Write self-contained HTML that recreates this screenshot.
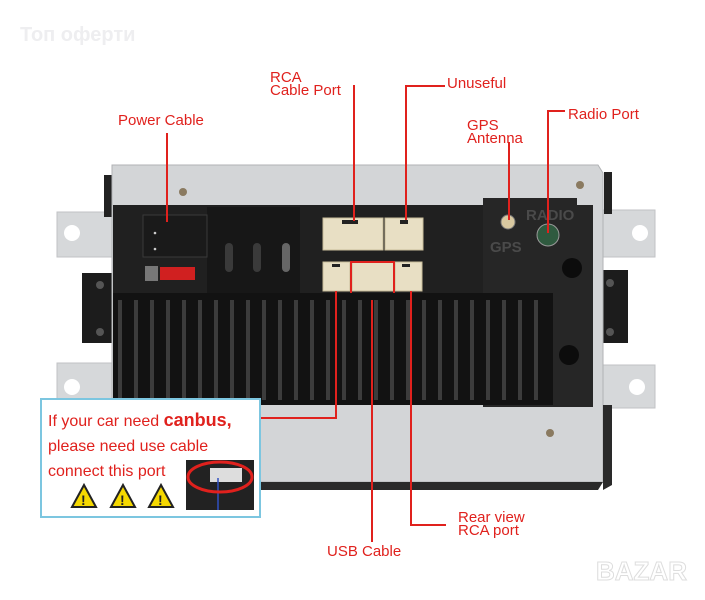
<!DOCTYPE html>
<html><head><meta charset="utf-8"><style>
body{margin:0;background:#fff;width:705px;height:600px;overflow:hidden;position:relative;font-family:"Liberation Sans",sans-serif}
.t{position:absolute;color:#e0211d;font-size:15px;line-height:13px}
</style></head><body>
<svg width="705" height="600" style="position:absolute;left:0;top:0">
<!-- ears -->
<g fill="#d6d8da" stroke="#c0c2c4">
<path d="M57 212h58v45h-58z"/><path d="M57 363h58v42h-58z"/>
<path d="M600 210h55v47h-55z"/><path d="M600 365h55v43h-55z"/>
</g>
<circle cx="72" cy="233" r="8" fill="#fff"/><circle cx="72" cy="387" r="8" fill="#fff"/>
<circle cx="640" cy="233" r="8" fill="#fff"/><circle cx="637" cy="387" r="8" fill="#fff"/>
<!-- side tabs -->
<rect x="104" y="175" width="8" height="42" fill="#222"/><rect x="604" y="172" width="8" height="42" fill="#222"/>
<rect x="82" y="273" width="32" height="70" fill="#1c1c1c"/><rect x="598" y="270" width="30" height="73" fill="#1c1c1c"/>
<circle cx="100" cy="285" r="4" fill="#555"/><circle cx="100" cy="332" r="4" fill="#555"/>
<circle cx="610" cy="283" r="4" fill="#555"/><circle cx="610" cy="332" r="4" fill="#555"/>
<!-- chassis -->
<path d="M112 165h486l5 8v309h-491z" fill="#d3d5d7" stroke="#b0b2b4"/>
<path d="M112 482h491l-5 8H118z" fill="#2a2a2a"/>
<path d="M603 405h9v80l-9 5z" fill="#2a2a2a"/>
<circle cx="183" cy="192" r="4" fill="#8a7a60"/><circle cx="550" cy="433" r="4" fill="#8a7a60"/><circle cx="580" cy="185" r="4" fill="#8a7a60"/>
<!-- black back panel -->
<rect x="113" y="205" width="480" height="92" fill="#202020"/>
<rect x="483" y="198" width="94" height="20" fill="#262626"/>
<rect x="483" y="205" width="110" height="202" fill="#262626"/>
<rect x="207" y="207" width="93" height="88" fill="#171717"/>
<rect x="143" y="215" width="64" height="42" fill="#1a1a1a" stroke="#3a3a3a"/>
<g fill="#ccc"><circle cx="155" cy="233" r="1.3"/><circle cx="155" cy="249" r="1.3"/></g>
<rect x="145" y="266" width="13" height="15" fill="#777"/>
<rect x="160" y="267" width="35" height="13" fill="#d02020"/>
<rect x="225" y="243" width="8" height="29" rx="4" fill="#3a3a3a"/><rect x="253" y="243" width="8" height="29" rx="4" fill="#3a3a3a"/><rect x="282" y="243" width="8" height="29" rx="4" fill="#666"/>
<!-- connectors -->
<g fill="#e8dfc4" stroke="#c9bd9a">
<rect x="323" y="218" width="60" height="32"/><rect x="385" y="218" width="38" height="32"/>
<rect x="323" y="262" width="27" height="29"/><rect x="352" y="262" width="42" height="29"/><rect x="395" y="262" width="27" height="29"/>
</g>
<g fill="#222"><rect x="342" y="220" width="16" height="4"/><rect x="400" y="220" width="8" height="4"/><rect x="332" y="264" width="8" height="3"/><rect x="402" y="264" width="8" height="3"/></g>
<rect x="351" y="262" width="43" height="38" fill="none" stroke="#e0211d" stroke-width="2"/>
<circle cx="508" cy="222" r="7" fill="#d8c8a0" stroke="#777"/>
<circle cx="548" cy="235" r="11" fill="#2f5a3f" stroke="#999"/>
<circle cx="572" cy="268" r="10" fill="#0c0c0c"/><circle cx="569" cy="355" r="10" fill="#0c0c0c"/>
<text x="490" y="252" fill="#4a4a4a" font-size="15" font-weight="bold">GPS</text>
<text x="526" y="220" fill="#4a4a4a" font-size="15" font-weight="bold">RADIO</text>
<!-- heatsink -->
<rect x="113" y="293" width="440" height="112" fill="#121212"/>
<g stroke="#3c3c3c" stroke-width="4">
<path d="M120 300v100M136 300v100M152 300v100M168 300v100M184 300v100M200 300v100M216 300v100M232 300v100M248 300v100M264 300v100M280 300v100M296 300v100M312 300v100M328 300v100M344 300v100M360 300v100M376 300v100M392 300v100M408 300v100M424 300v100M440 300v100M456 300v100M472 300v100M488 300v100M504 300v100M520 300v100M536 300v100"/>
</g>
<!-- red connector lines -->
<g stroke="#e0211d" stroke-width="2" fill="none">
<path d="M167 133v89"/>
<path d="M354 85v136"/>
<path d="M445 86h-39v134"/>
<path d="M509 142v78"/>
<path d="M565 111h-17v122"/>
<path d="M372 300v242"/>
<path d="M411 291v234h35"/>
<path d="M336 291v127h-76"/>
</g>
<!-- canbus box -->
<rect x="41" y="399" width="219" height="118" fill="#fff" stroke="#7cc6e0" stroke-width="2"/>
<rect x="186" y="460" width="68" height="50" fill="#222"/>
<rect x="210" y="468" width="32" height="14" fill="#ddd"/>
<path d="M218 478v32" stroke="#3050c0" stroke-width="1.5"/>
<ellipse cx="220" cy="477" rx="32" ry="15" fill="none" stroke="#e0211d" stroke-width="3"/>
<g fill="#f5d800" stroke="#222" stroke-width="2">
<path d="M72 507l12-22 12 22z"/><path d="M111 507l12-22 12 22z"/><path d="M149 507l12-22 12 22z"/>
</g>
<g fill="#222" font-size="14" font-weight="bold"><text x="81" y="505">!</text><text x="120" y="505">!</text><text x="158" y="505">!</text></g>
</svg>
<div style="position:absolute;left:20px;top:24px;color:#eeeef0;font-size:20px;font-weight:bold">Топ оферти</div>
<div class="t" style="left:118px;top:114px">Power Cable</div>
<div class="t" style="left:270px;top:71px">RCA<br>Cable Port</div>
<div class="t" style="left:447px;top:77px">Unuseful</div>
<div class="t" style="left:467px;top:119px">GPS<br>Antenna</div>
<div class="t" style="left:568px;top:108px">Radio Port</div>
<div class="t" style="left:458px;top:511px">Rear view<br>RCA port</div>
<div class="t" style="left:327px;top:545px">USB Cable</div>
<div class="t" style="left:48px;top:408px;font-size:16px;line-height:25px">If your car need <b style="font-size:18px">canbus,</b><br>please need use cable<br>connect this port</div>
<div style="position:absolute;left:596px;top:556px;color:#fff;-webkit-text-stroke:1px #ddd;font-size:26px;font-weight:bold">BAZAR</div>
</body></html>
